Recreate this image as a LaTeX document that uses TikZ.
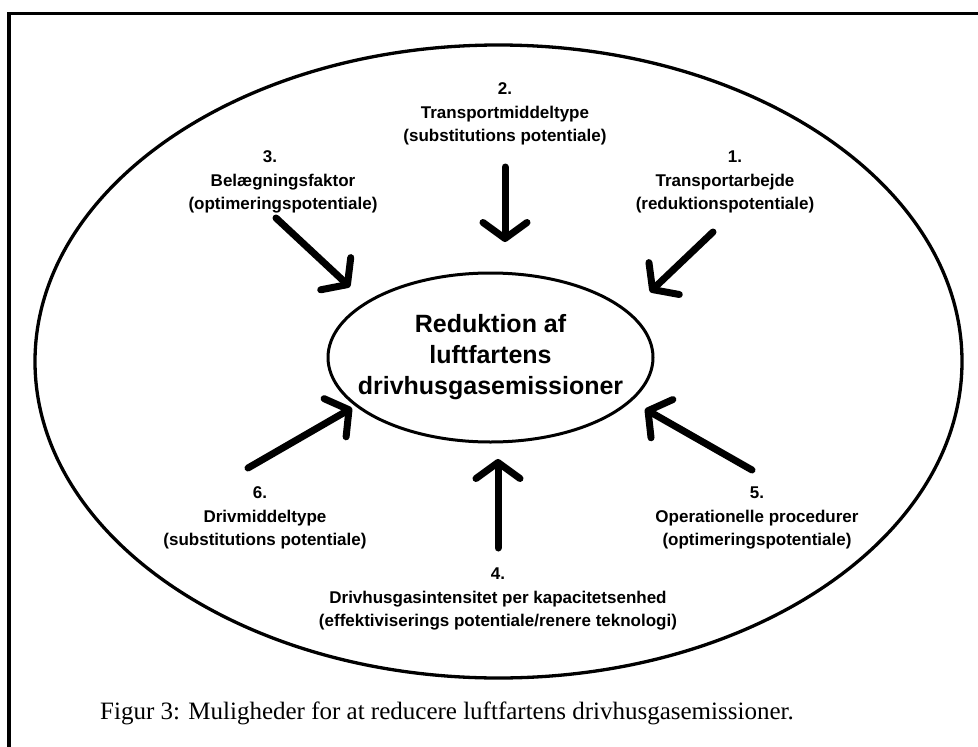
\documentclass[tikz,border=0pt]{standalone}
\usepackage{fontspec}
\setmainfont{Liberation Serif}
\newfontfamily\arialfont{Liberation Sans}
\usetikzlibrary{arrows.meta,shapes.geometric}
\begin{document}
\begin{tikzpicture}[x=1pt,y=-1pt,
  lbl/.style={align=center, inner sep=0pt, font=\arialfont\bfseries\fontsize{17}{23.5}\selectfont},
  bigarrow/.style={line width=7pt, line cap=round, -{Straight Barb[length=16pt,width=44pt,round]}},
  ring/.style={draw, ellipse, inner sep=0pt}]
\useasboundingbox (0,0) rectangle (978,747);
\draw[line width=3.5pt] (8.8,760) -- (8.8,13.5) -- (990,13.5);
\node[ring, line width=3.3pt, minimum width=927pt, minimum height=633pt] (outer) at (498.5,361.5) {};
\node[ring, line width=3pt, minimum width=325pt, minimum height=169pt] (centre) at (490.5,357.5) {};
\node[align=center, inner sep=0pt,
  font=\arialfont\bfseries\fontsize{25}{31}\selectfont] (centretext) at (centre.center)
  {Reduktion af\\luftfartens\\drivhusgasemissioner};
\node[lbl] (l1) at (725,182) {\hspace*{20pt}1.\\Transportarbejde\\(reduktionspotentiale)};
\node[lbl] (l2) at (505,114) {2.\\Transportmiddeltype\\(substitutions potentiale)};
\node[lbl] (l3) at (283,182) {3.\hspace*{26pt}\\Belægningsfaktor\\(optimeringspotentiale)};
\node[lbl] (l4) at (498,599) {4.\\Drivhusgasintensitet per kapacitetsenhed\\(effektiviserings potentiale/renere teknologi)};
\node[lbl] (l5) at (757,518) {5.\\Operationelle procedurer\\(optimeringspotentiale)};
\node[lbl] (l6) at (265,518) {6.\hspace*{10pt}\\Drivmiddeltype\\(substitutions potentiale)};
\coordinate (a1s) at (713,232); \coordinate (a1e) at (650,292);
\coordinate (a2s) at (505,167); \coordinate (a2e) at (505,242);
\coordinate (a3s) at (276,218); \coordinate (a3e) at (350,287);
\coordinate (a4s) at (498,548); \coordinate (a4e) at (498,459);
\coordinate (a5s) at (752,470); \coordinate (a5e) at (645,409);
\coordinate (a6s) at (248,468); \coordinate (a6e) at (352,408);
\draw[bigarrow] (a1s) -- (a1e);
\draw[bigarrow] (a2s) -- (a2e);
\draw[bigarrow] (a3s) -- (a3e);
\draw[bigarrow] (a4s) -- (a4e);
\draw[bigarrow] (a5s) -- (a5e);
\draw[bigarrow] (a6s) -- (a6e);
\node[font=\fontsize{25}{30}\selectfont, anchor=base west, inner sep=0pt] (cap) at (100,719)
  {Figur 3: Muligheder for at reducere luftfartens drivhusgasemissioner.};
\end{tikzpicture}
\end{document}
